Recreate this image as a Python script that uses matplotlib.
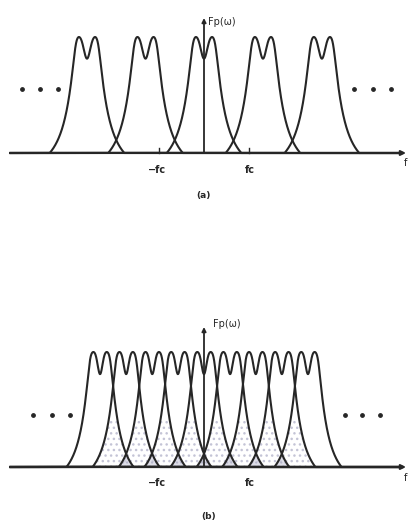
import numpy as np
import matplotlib.pyplot as plt

# peak centres in units of fc
centers_a = [-2.6, -1.3, 0.0, 1.31, 2.62]
centers_b = [-2.31, -1.73, -1.15, -0.58, 0.0, 0.58, 1.15, 1.73, 2.31]
heights_a = [1, 1, 1, 1, 1]
heights_b = [1, 1, 1, 1, 1, 1, 1, 1, 1]

tick_pos = [-1, 1]
tick_labels = ['\u2212fc', 'fc']

# "..." markers either side
dots_a_x = [-4.04, -3.64, -3.24, 3.33, 3.76, 4.16]
dots_a_y = 0.55
dots_b_x = [-3.8, -3.38, -2.98, 3.13, 3.51, 3.91]
dots_b_y = 0.45

ink = '#262626'
W, H = 409, 522
px_fc = 45.0   # pixels per fc
x0_px = 204.0  # pixel column of f = 0


def line_shape(u, b, s, S=2.4, c=0.2, dip=0.2, n=8):
    # lorentzian skirt cut at the baseline, capped by a flat top with a dip
    skirt = np.clip(S / (1 + (u / b) ** 2) - c, 1e-9, None)
    cap = 1 - dip * np.exp(-(u / s) ** 2)
    f = (skirt ** -n + cap ** -n) ** (-1.0 / n)
    f[skirt <= 1e-8] = 0
    return f


uu = np.linspace(-1.5, 1.5, 3001)


def make_curves(centers, heights, b, s):
    norm = line_shape(uu, b, s).max()
    x = np.linspace(-4.3, 4.4, 5000)
    curves = [h * line_shape(x - c, b, s) / norm for c, h in zip(centers, heights)]
    return x, np.array(curves)


fig = plt.figure(figsize=(W / 100, H / 100), dpi=100)

specs = [
    dict(top=0, bot=210, base=153, peak=37, centers=centers_a, heights=heights_a,
         b=0.25, s=0.10, dx=dots_a_x, dy=dots_a_y, ticks=True, lab='(a)',
         lab_y=195, lab_x=203, arrow_top=18, fp_y=22, fp_x=208, fc_y=170, f_y=163),
    dict(top=300, bot=522, base=467, peak=352, centers=centers_b, heights=heights_b,
         b=0.225, s=0.075, dx=dots_b_x, dy=dots_b_y, ticks=False, lab='(b)',
         lab_y=516, lab_x=209, arrow_top=327, fp_y=324, fp_x=213, fc_y=483, f_y=478),
]

for sp in specs:
    hpx = sp['bot'] - sp['top']
    ax = fig.add_axes([0, 1 - sp['bot'] / H, 1, hpx / H])
    scale = sp['base'] - sp['peak']
    ax.set_xlim(-x0_px / px_fc, (W - x0_px) / px_fc)
    ax.set_ylim(-(sp['bot'] - sp['base']) / scale, (sp['base'] - sp['top']) / scale)
    ax.axis('off')

    def to_y(ypx):
        return (sp['base'] - ypx) / scale

    def to_x(xpx):
        return (xpx - x0_px) / px_fc

    x, curves = make_curves(sp['centers'], sp['heights'], sp['b'], sp['s'])

    if len(sp['centers']) > 5:
        # stippled overlap areas
        srt = np.sort(curves, axis=0)
        ax.fill_between(x, 0, np.minimum(srt[-2], 0.42), facecolor='none',
                        edgecolor='#c4c4d6', hatch='...', lw=0, zorder=1)
        ax.fill_between(x, 0, srt[-3], facecolor='#cfcfdd', edgecolor='#a8a8c0',
                        hatch='....', lw=0, alpha=0.7, zorder=1)

    for y in curves:
        ax.plot(x, y, color=ink, lw=1.5, zorder=3)

    # horizontal axis
    ax.annotate('', xy=(to_x(406), 0), xytext=(to_x(10), 0),
                arrowprops=dict(arrowstyle='-|>', lw=1.5, color=ink,
                                mutation_scale=7, shrinkA=0, shrinkB=0), zorder=4)
    # vertical axis
    ax.annotate('', xy=(0, to_y(sp['arrow_top'])), xytext=(0, 0),
                arrowprops=dict(arrowstyle='-|>', lw=1.3, color=ink,
                                mutation_scale=6, shrinkA=0, shrinkB=0), zorder=4)
    ax.text(to_x(sp['fp_x']), to_y(sp['fp_y']), 'Fp(\u03c9)', fontsize=7,
            color=ink, ha='left', va='center')

    if sp['ticks']:
        for t in tick_pos:
            ax.plot([t, t], [0, 5 / scale], color=ink, lw=1.0, zorder=4)
    lab_x = [to_x(157), to_x(250)]
    for lx, tl in zip(lab_x, tick_labels):
        ax.text(lx, to_y(sp['fc_y']), tl, fontsize=7, color=ink,
                ha='center', va='center', fontweight='bold')

    ax.text(to_x(404), to_y(sp['f_y']), 'f', fontsize=7, color=ink,
            ha='left', va='center', clip_on=False)
    ax.scatter(sp['dx'], [sp['dy']] * len(sp['dx']), s=6, color=ink, zorder=4)
    ax.text(to_x(sp['lab_x']), to_y(sp['lab_y']), sp['lab'], fontsize=6.5,
            color=ink, ha='center', va='center', fontweight='bold')

fig.savefig('out.png', dpi=100)
